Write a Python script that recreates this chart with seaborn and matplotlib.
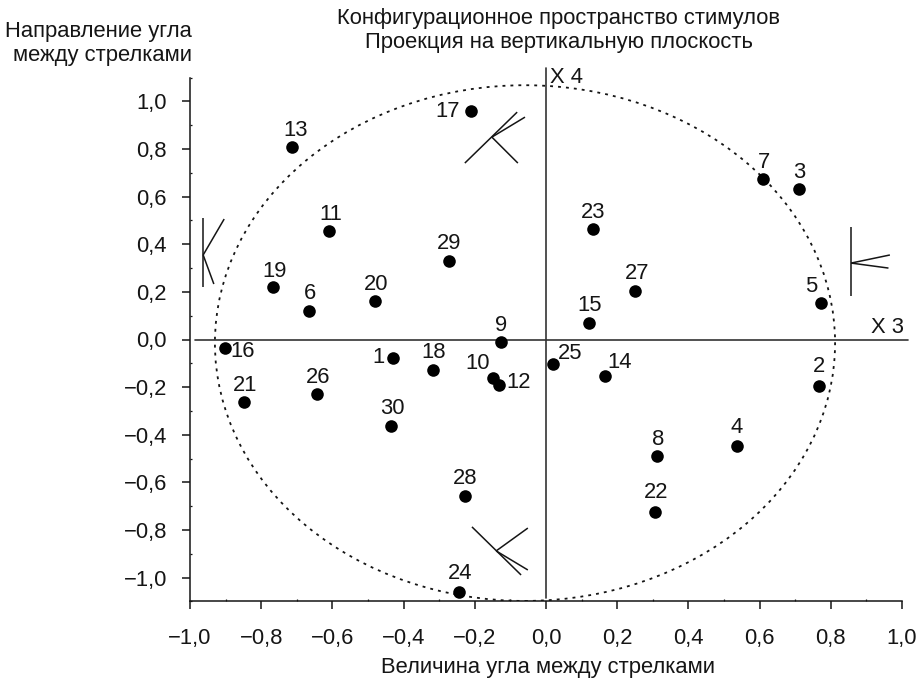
import numpy as np
import pandas as pd
import matplotlib
matplotlib.use("Agg")
import matplotlib.pyplot as plt
from matplotlib.patches import Ellipse
import seaborn as sns

ids = list(range(1, 31))
x3 = [-0.430, 0.767, 0.710, 0.536, 0.772, -0.666, 0.610, 0.312, -0.126, -0.149,
      -0.610, -0.132, -0.713, 0.166, 0.121, -0.902, -0.211, -0.317, -0.767, -0.480,
      -0.848, 0.306, 0.132, -0.244, 0.020, -0.643, 0.250, -0.228, -0.272, -0.435]
x4 = [-0.078, -0.195, 0.632, -0.447, 0.153, 0.120, 0.674, -0.489, -0.010, -0.162,
      0.456, -0.191, 0.808, -0.153, 0.069, -0.036, 0.960, -0.128, 0.220, 0.162,
      -0.262, -0.724, 0.464, -1.060, -0.103, -0.229, 0.204, -0.657, 0.330, -0.363]
label_dx = [-14, 0, 0, 0, -10, 1, 1, 1, 0, -15, 2, 20, 3, 15, 1, 18, -23, 1, 2, 1, 1, 1, 0, 1, 17, 1, 2, 0, 0, 1]
label_dy = [2, 20, 18, 19, 18, 18, 18, 17, 17, 16, 17, 3, 18, 14, 19, -2, 0, 18, 17, 17, 17, 20, 18, 19, 12, 18, 18, 18, 18, 18]

ticks_x = [-1.0, -0.8, -0.6, -0.4, -0.2, 0.0, 0.2, 0.4, 0.6, 0.8, 1.0]
ticks_y = [-1.0, -0.8, -0.6, -0.4, -0.2, 0.0, 0.2, 0.4, 0.6, 0.8, 1.0]
tick_labels = ["\u22121,0", "\u22120,8", "\u22120,6", "\u22120,4", "\u22120,2", "0,0", "0,2", "0,4", "0,6", "0,8", "1,0"]

glyph_segments = [
    [(-0.963, 0.510), (-0.963, 0.220)],
    [(-0.963, 0.355), (-0.904, 0.506)],
    [(-0.963, 0.355), (-0.933, 0.233)],
    [(-0.228, 0.741), (-0.081, 0.955)],
    [(-0.152, 0.850), (-0.059, 0.934)],
    [(-0.152, 0.850), (-0.079, 0.741)],
    [(0.857, 0.472), (0.857, 0.183)],
    [(0.857, 0.321), (0.966, 0.355)],
    [(0.857, 0.321), (0.962, 0.300)],
    [(-0.208, -0.787), (-0.070, -0.989)],
    [(-0.140, -0.888), (-0.051, -0.792)],
    [(-0.140, -0.888), (-0.051, -0.968)],
]

sns.set_theme(style="ticks")
plt.rcParams["font.family"] = ["Liberation Sans", "DejaVu Sans"]
INK = "#151515"
FS = 15.8

W, H = 923, 680
fig = plt.figure(figsize=(W / 100, H / 100), dpi=100, facecolor="white")
ax = fig.add_axes([190 / W, 1 - 601.4 / H, 712 / W, 523.8 / H])
ax.set_xlim(-1, 1)
ax.set_ylim(-1.1, 1.1)

df = pd.DataFrame({"x3": x3, "x4": x4})
sns.scatterplot(data=df, x="x3", y="x4", ax=ax, color="black", s=82, linewidth=0, zorder=5, clip_on=False)

ax.add_patch(Ellipse((-0.059, -0.015), 2 * 0.871, 2 * 1.083, fill=False, edgecolor=INK,
                     linewidth=1.3, linestyle=(0, (1.6, 2.8)), zorder=2))

ax.plot([-0.986, 1.017], [0, 0], color="#333333", lw=1.2, clip_on=False, zorder=3)
ax.plot([0, 0], [-1.085, 1.14], color="#333333", lw=1.2, clip_on=False, zorder=3)

for seg in glyph_segments:
    (xa, ya), (xb, yb) = seg
    ax.plot([xa, xb], [ya, yb], color=INK, lw=1.1, zorder=3, solid_capstyle="butt")

for i, xv, yv, dx, dy in zip(ids, x3, x4, label_dx, label_dy):
    ax.annotate(str(i), (xv, yv), xytext=(dx, dy - 1), textcoords="offset pixels",
                ha="center", va="center", fontsize=FS, color=INK, zorder=6)

ax.text(0.958, 0.052, "X 3", fontsize=FS, color=INK, ha="center", va="center")
ax.text(0.058, 1.102, "X 4", fontsize=FS, color=INK, ha="center", va="center", clip_on=False)

ax.set_xticks(ticks_x, tick_labels)
ax.set_yticks(ticks_y, tick_labels)
ax.set_xticks(np.arange(-9, 10, 2) / 10, minor=True)
ax.set_yticks(np.arange(-11, 12, 2) / 10, minor=True)
ax.tick_params(axis="both", which="major", direction="out", length=6, width=1.1, color=INK,
               labelsize=FS, labelcolor=INK)
ax.tick_params(axis="x", which="major", pad=13.5)
ax.tick_params(axis="y", which="major", pad=10.5)
ax.tick_params(axis="both", which="minor", direction="in", length=1.6, width=0.9, color=INK)
for s in ("top", "right"):
    ax.spines[s].set_visible(False)
for s in ("left", "bottom"):
    ax.spines[s].set_linewidth(1.1)
    ax.spines[s].set_color(INK)
ax.set_xlabel("")
ax.set_ylabel("")


def ftext(px, py, s, **kw):
    fig.text(px / W, 1 - py / H, s, fontsize=FS, color=INK, va="baseline", **kw)


ftext(558.5, 24, "Конфигурационное пространство стимулов", ha="center")
ftext(558.5, 48, "Проекция на вертикальную плоскость", ha="center")
ftext(192, 36.5, "Направление угла", ha="right")
ftext(192, 60.5, "между стрелками", ha="right")
ftext(548, 673, "Величина угла между стрелками", ha="center")

fig.savefig("out.png", dpi=100)
